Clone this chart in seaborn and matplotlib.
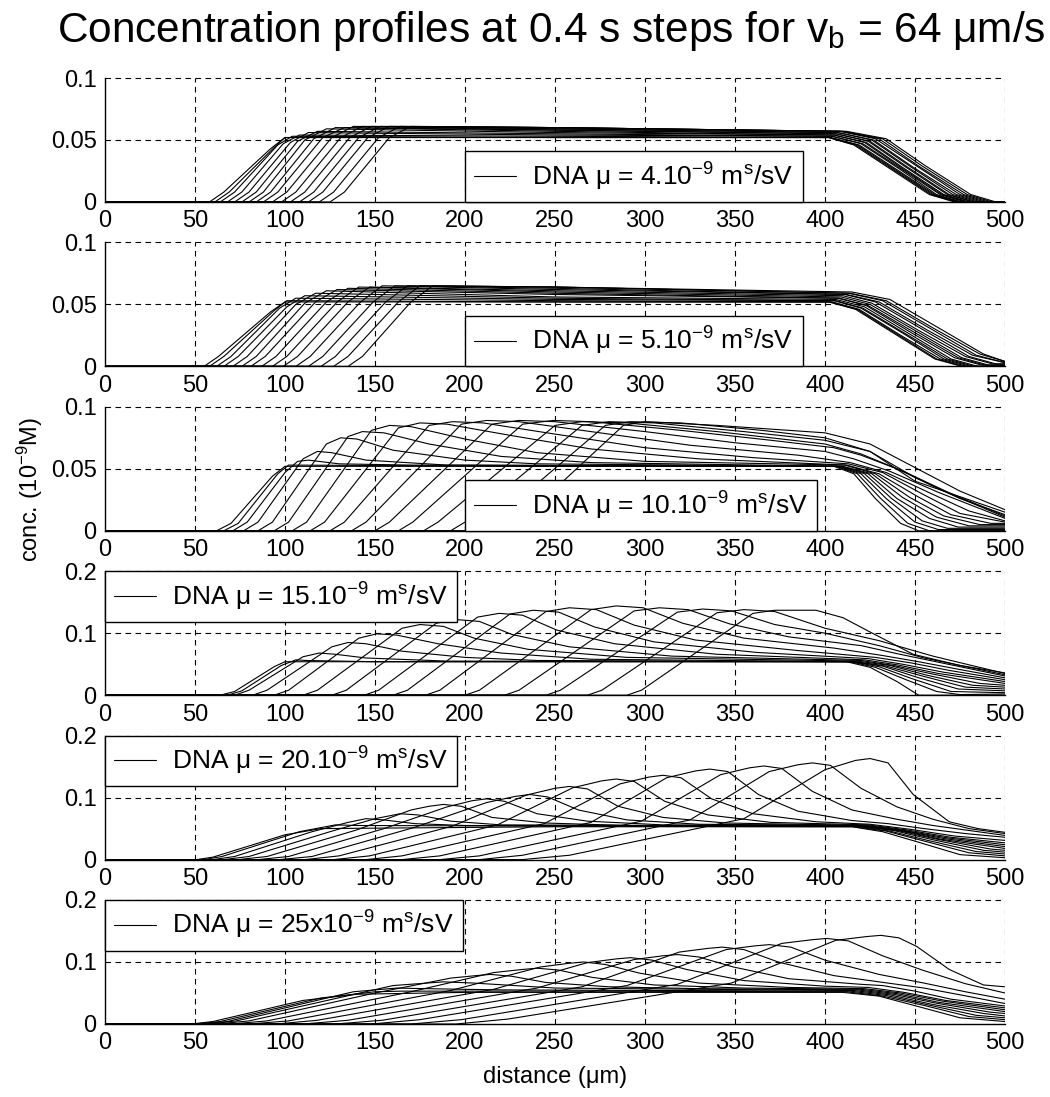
import matplotlib
matplotlib.use("Agg")
import matplotlib.pyplot as plt
from matplotlib.lines import Line2D
import pandas as pd
import seaborn as sns

# ---------------------------------------------------------------------------
# Concentration profiles, one list of (distance, conc.) knots per time step.
# ---------------------------------------------------------------------------
mu4_profiles = [
    [(58, 0), (66, .008), (92, .043), (100, .052), (402, .052), (416, .046), (437, .026), (458, .006), (472, 0)],
    [(61, 0), (69, .008), (94, .044), (100, .052), (402, .052), (417, .046), (438, .026), (459, .006), (473, 0)],
    [(64, 0), (72, .008), (96, .046), (104, .053), (250, .052), (403, .052), (418, .046), (439, .026), (460, .006), (474, 0)],
    [(68, 0), (76, .008), (99, .047), (108, .054), (250, .053), (403, .052), (419, .046), (440, .026), (461, .006), (475, 0)],
    [(72, 0), (80, .008), (103, .048), (113, .056), (250, .054), (404, .053), (420, .047), (441, .027), (462, .006), (476, 0)],
    [(76, 0), (84, .008), (107, .049), (118, .057), (250, .055), (404, .053), (421, .047), (442, .027), (464, .006), (478, 0)],
    [(80, 0), (88, .008), (111, .050), (123, .059), (250, .056), (405, .054), (422, .048), (443, .027), (465, .006), (479, 0)],
    [(84, 0), (92, .008), (116, .051), (128, .060), (250, .057), (405, .054), (423, .048), (444, .027), (466, .006), (480, 0)],
    [(88, 0), (96, .008), (121, .052), (133, .060), (250, .058), (406, .055), (424, .049), (445, .028), (468, .006), (482, 0)],
    [(93, 0), (101, .008), (126, .052), (138, .061), (250, .058), (406, .055), (425, .049), (446, .028), (469, .006), (483, 0)],
    [(98, 0), (106, .008), (131, .052), (143, .061), (250, .059), (407, .056), (426, .050), (448, .028), (471, .006), (485, 0)],
    [(103, 0), (111, .008), (136, .052), (148, .061), (250, .059), (407, .056), (427, .050), (449, .028), (473, .006), (487, 0)],
    [(108, 0), (116, .008), (141, .052), (153, .061), (250, .060), (408, .057), (428, .051), (451, .029), (475, .006), (489, 0)],
    [(113, 0), (121, .008), (146, .052), (158, .061), (250, .060), (409, .057), (430, .051), (452, .029), (477, .006), (491, 0)],
    [(119, 0), (127, .008), (152, .052), (164, .061), (250, .060), (410, .057), (432, .051), (454, .029), (479, .006), (493, 0)],
    [(125, 0), (133, .008), (158, .052), (170, .061), (250, .060), (412, .057), (434, .051), (456, .029), (481, .006), (495, 0)],
]

mu5_profiles = [
    [(55, 0), (63, .008), (92, .044), (100, .052), (402, .052), (417, .046), (439, .026), (461, .006), (476, 0)],
    [(58, 0), (66, .008), (94, .045), (101, .053), (250, .052), (403, .052), (418, .046), (440, .026), (462, .006), (477, 0)],
    [(62, 0), (70, .008), (97, .047), (106, .055), (250, .053), (404, .052), (419, .046), (441, .026), (464, .006), (479, 0)],
    [(66, 0), (74, .008), (101, .048), (111, .057), (250, .054), (405, .053), (420, .047), (443, .027), (466, .006), (481, 0)],
    [(71, 0), (79, .008), (106, .050), (117, .059), (250, .055), (406, .053), (421, .047), (444, .027), (468, .006), (483, 0)],
    [(76, 0), (84, .008), (111, .051), (123, .061), (250, .056), (406, .054), (422, .048), (446, .027), (470, .006), (485, 0)],
    [(81, 0), (89, .008), (117, .052), (129, .062), (250, .058), (407, .055), (423, .049), (447, .028), (472, .007), (487, .001), (500, .001)],
    [(87, 0), (95, .008), (123, .052), (135, .063), (250, .059), (408, .055), (424, .049), (449, .028), (474, .007), (489, .001), (500, .001)],
    [(93, 0), (101, .008), (129, .052), (141, .064), (250, .060), (409, .056), (425, .050), (450, .029), (476, .007), (491, .001), (500, .001)],
    [(99, 0), (107, .008), (135, .052), (147, .064), (250, .061), (410, .057), (426, .051), (452, .029), (478, .008), (493, .002), (500, .002)],
    [(106, 0), (114, .008), (142, .052), (154, .065), (250, .062), (411, .058), (428, .052), (454, .030), (480, .008), (495, .002), (500, .002)],
    [(113, 0), (121, .008), (149, .052), (161, .065), (250, .063), (412, .058), (430, .052), (456, .030), (482, .009), (500, .003)],
    [(120, 0), (128, .008), (156, .052), (168, .065), (250, .064), (413, .059), (432, .053), (458, .031), (484, .009), (500, .003)],
    [(127, 0), (135, .008), (163, .052), (175, .065), (250, .064), (414, .059), (434, .053), (460, .031), (486, .010), (500, .004)],
    [(135, 0), (143, .008), (170, .052), (182, .065), (250, .064), (415, .060), (436, .054), (462, .032), (488, .010), (500, .004)],
]

mu10_profiles = [
    [(62, 0), (70, .006), (93, .044), (100, .052), (405, .052), (416, .046), (428, .026), (442, .006), (452, 0)],
    [(66, 0), (74, .006), (96, .046), (102, .053), (250, .052), (406, .052), (418, .046), (431, .026), (446, .006), (458, 0)],
    [(71, 0), (79, .007), (100, .047), (107, .056), (113, .057), (130, .054), (170, .053), (407, .052), (420, .046), (434, .026), (450, .007), (463, .001), (500, .001)],
    [(77, 0), (85, .007), (110, .058), (118, .064), (126, .063), (145, .057), (190, .053), (408, .052), (422, .046), (437, .026), (454, .008), (468, .002), (500, .002)],
    [(85, 0), (93, .007), (123, .070), (131, .075), (140, .074), (160, .065), (200, .057), (240, .054), (409, .052), (424, .046), (440, .026), (458, .010), (474, .003), (500, .003)],
    [(94, 0), (102, .007), (135, .076), (143, .080), (155, .079), (180, .070), (220, .060), (270, .055), (410, .052), (426, .046), (443, .027), (462, .011), (480, .004), (500, .004)],
    [(104, 0), (112, .007), (148, .081), (158, .085), (170, .084), (200, .074), (240, .063), (300, .056), (411, .053), (428, .046), (447, .027), (466, .012), (486, .005), (500, .005)],
    [(114, 0), (122, .007), (163, .083), (175, .087), (190, .086), (225, .077), (270, .066), (330, .058), (412, .053), (430, .046), (451, .028), (470, .013), (492, .006), (500, .006)],
    [(125, 0), (133, .007), (180, .085), (193, .088), (210, .087), (250, .078), (300, .067), (360, .059), (413, .054), (432, .047), (455, .029), (475, .014), (500, .007)],
    [(137, 0), (145, .007), (198, .086), (212, .089), (230, .088), (275, .079), (325, .069), (385, .061), (414, .055), (434, .047), (459, .030), (480, .016), (500, .008)],
    [(150, 0), (158, .007), (215, .086), (230, .089), (250, .088), (300, .080), (350, .071), (400, .064), (416, .058), (436, .048), (463, .031), (500, .010)],
    [(163, 0), (171, .007), (232, .086), (249, .089), (270, .088), (320, .081), (370, .073), (405, .067), (420, .061), (440, .050), (466, .032), (500, .011)],
    [(177, 0), (185, .007), (250, .085), (265, .088), (290, .087), (340, .080), (400, .070), (420, .062), (445, .047), (470, .030), (500, .012)],
    [(192, 0), (200, .007), (265, .085), (280, .088), (305, .087), (355, .080), (400, .073), (425, .064), (450, .043), (475, .026), (500, .013)],
    [(207, 0), (215, .007), (278, .085), (292, .088), (320, .087), (365, .081), (400, .075), (425, .064), (450, .040), (500, .015)],
    [(222, 0), (230, .007), (288, .085), (300, .088), (340, .085), (400, .079), (425, .070), (450, .051), (475, .032), (500, .017)],
]

mu15_profiles = [
    [(64, 0), (72, .006), (94, .046), (100, .054), (412, .054), (425, .045), (440, .022), (452, 0)],
    [(68, 0), (76, .007), (98, .048), (106, .057), (112, .056), (150, .054), (414, .054), (428, .045), (445, .025), (462, .006), (475, .001), (500, .002)],
    [(72, 0), (80, .008), (110, .062), (119, .068), (128, .066), (145, .060), (190, .055), (415, .054), (430, .046), (448, .027), (470, .006), (500, .004)],
    [(82, 0), (90, .008), (126, .078), (135, .085), (145, .083), (165, .071), (200, .061), (240, .056), (416, .054), (432, .047), (451, .029), (474, .010), (500, .007)],
    [(94, 0), (102, .008), (141, .092), (151, .099), (162, .097), (185, .083), (220, .068), (270, .058), (417, .054), (434, .047), (454, .031), (478, .013), (500, .010)],
    [(110, 0), (118, .008), (165, .108), (175, .114), (188, .111), (205, .092), (235, .074), (290, .061), (418, .055), (436, .048), (457, .032), (482, .016), (500, .013)],
    [(126, 0), (134, .008), (184, .116), (195, .122), (208, .119), (226, .098), (258, .078), (315, .063), (420, .056), (438, .048), (460, .034), (486, .019), (500, .016)],
    [(144, 0), (152, .008), (207, .126), (219, .132), (232, .129), (251, .105), (283, .083), (340, .066), (422, .057), (440, .049), (463, .035), (500, .019)],
    [(160, 0), (168, .008), (225, .131), (238, .137), (252, .134), (272, .110), (305, .086), (362, .069), (424, .059), (443, .050), (466, .037), (500, .022)],
    [(178, 0), (186, .008), (245, .135), (258, .141), (273, .138), (294, .113), (328, .089), (385, .072), (428, .061), (448, .052), (469, .040), (500, .025)],
    [(200, 0), (208, .008), (270, .138), (284, .144), (299, .141), (321, .116), (355, .092), (405, .076), (432, .064), (452, .054), (472, .043), (500, .028)],
    [(222, 0), (230, .008), (294, .136), (308, .141), (324, .138), (347, .115), (380, .094), (420, .080), (440, .067), (460, .055), (500, .031)],
    [(245, 0), (253, .008), (318, .134), (332, .139), (348, .136), (372, .114), (400, .100), (430, .080), (455, .060), (500, .033)],
    [(268, 0), (276, .008), (340, .133), (355, .138), (372, .135), (400, .108), (430, .088), (460, .063), (500, .035)],
    [(290, 0), (298, .008), (360, .132), (372, .137), (395, .137), (410, .125), (425, .102), (449, .066), (475, .048), (500, .036)],
]

mu20_profiles = [
    [(51, 0), (60, .004), (100, .040), (120, .050), (250, .053), (415, .053), (432, .045), (452, .028), (475, .008), (500, .003)],
    [(55, 0), (65, .005), (108, .045), (128, .056), (140, .055), (250, .054), (416, .053), (434, .046), (455, .030), (480, .011), (500, .006)],
    [(60, 0), (72, .005), (115, .045), (135, .060), (145, .066), (155, .064), (172, .058), (200, .055), (417, .054), (436, .046), (457, .031), (484, .013), (500, .009)],
    [(66, 0), (80, .005), (125, .045), (150, .066), (164, .074), (174, .072), (192, .062), (220, .056), (418, .054), (438, .047), (460, .032), (488, .015), (500, .012)],
    [(74, 0), (90, .005), (140, .048), (170, .080), (180, .086), (188, .089), (198, .086), (215, .068), (245, .059), (290, .055), (420, .054), (440, .047), (462, .033), (492, .017), (500, .015)],
    [(85, 0), (102, .005), (155, .050), (190, .085), (204, .095), (212, .098), (222, .094), (240, .074), (268, .062), (310, .056), (421, .055), (442, .047), (464, .033), (500, .018)],
    [(97, 0), (115, .005), (172, .052), (212, .092), (228, .102), (236, .105), (246, .101), (263, .080), (290, .064), (330, .057), (422, .055), (443, .047), (466, .034), (500, .021)],
    [(111, 0), (130, .006), (193, .054), (234, .104), (250, .115), (258, .118), (268, .114), (285, .086), (310, .068), (345, .059), (423, .055), (444, .047), (468, .035), (500, .024)],
    [(127, 0), (147, .006), (218, .056), (260, .116), (276, .127), (284, .130), (294, .126), (311, .094), (335, .072), (370, .060), (424, .056), (445, .048), (470, .036), (500, .027)],
    [(145, 0), (165, .006), (244, .058), (286, .122), (302, .133), (310, .136), (320, .132), (337, .098), (360, .074), (395, .061), (425, .057), (447, .049), (472, .038), (500, .031)],
    [(165, 0), (186, .006), (270, .060), (312, .132), (328, .143), (336, .146), (346, .142), (363, .105), (385, .078), (415, .063), (435, .058), (455, .050), (478, .042), (500, .036)],
    [(186, 0), (208, .006), (298, .062), (342, .137), (358, .148), (366, .151), (376, .147), (393, .110), (415, .080), (440, .065), (460, .055), (480, .047), (500, .039)],
    [(208, 0), (232, .007), (325, .064), (369, .142), (385, .153), (393, .156), (403, .152), (420, .115), (440, .085), (460, .065), (480, .050), (500, .042)],
    [(232, 0), (258, .007), (355, .066), (400, .145), (417, .160), (425, .163), (435, .156), (449, .105), (469, .061), (485, .050), (500, .044)],
]

mu25_profiles = [
    [(48, 0), (60, .004), (110, .038), (140, .048), (200, .051), (410, .051), (430, .045), (452, .028), (475, .010), (500, .004)],
    [(50, 0), (64, .004), (120, .042), (150, .052), (165, .053), (250, .053), (412, .052), (432, .045), (455, .030), (480, .012), (500, .007)],
    [(53, 0), (68, .004), (138, .052), (162, .058), (178, .057), (220, .055), (414, .053), (434, .046), (457, .031), (484, .014), (500, .010)],
    [(57, 0), (73, .005), (160, .062), (188, .068), (205, .066), (250, .058), (416, .054), (436, .047), (459, .032), (488, .017), (500, .013)],
    [(62, 0), (80, .005), (150, .050), (192, .074), (206, .078), (214, .080), (226, .077), (245, .067), (280, .060), (330, .057), (418, .055), (438, .048), (461, .034), (492, .019), (500, .017)],
    [(70, 0), (90, .005), (170, .052), (216, .083), (232, .088), (240, .090), (252, .087), (271, .075), (305, .063), (355, .058), (420, .056), (440, .049), (463, .035), (500, .020)],
    [(80, 0), (102, .005), (192, .054), (242, .092), (258, .098), (266, .100), (278, .096), (297, .082), (330, .066), (380, .059), (422, .057), (442, .050), (465, .037), (500, .023)],
    [(95, 0), (118, .006), (216, .056), (268, .099), (284, .105), (292, .107), (304, .103), (323, .088), (355, .070), (400, .061), (424, .059), (444, .051), (467, .038), (500, .026)],
    [(110, 0), (135, .006), (240, .058), (294, .104), (310, .110), (318, .112), (330, .108), (349, .092), (380, .073), (420, .064), (432, .062), (450, .053), (470, .040), (500, .029)],
    [(128, 0), (154, .006), (265, .060), (319, .116), (335, .122), (343, .124), (355, .120), (374, .100), (405, .078), (435, .066), (455, .058), (477, .046), (500, .033)],
    [(148, 0), (175, .007), (290, .062), (345, .120), (361, .126), (369, .128), (381, .124), (400, .103), (430, .080), (455, .066), (478, .052), (500, .040)],
    [(170, 0), (198, .007), (318, .064), (376, .130), (393, .136), (401, .138), (413, .134), (432, .110), (454, .087), (478, .065), (500, .050)],
    [(195, 0), (224, .008), (348, .066), (406, .135), (423, .141), (431, .143), (441, .139), (451, .125), (469, .088), (488, .063), (500, .060)],
]

legend_labels = [
    r"DNA μ = 4.$10^{-9}$ $m^{s}$/sV",
    r"DNA μ = 5.$10^{-9}$ $m^{s}$/sV",
    r"DNA μ = 10.$10^{-9}$ $m^{s}$/sV",
    r"DNA μ = 15.$10^{-9}$ $m^{s}$/sV",
    r"DNA μ = 20.$10^{-9}$ $m^{s}$/sV",
    r"DNA μ = 25x$10^{-9}$ $m^{s}$/sV",
]
panel_profiles = [mu4_profiles, mu5_profiles, mu10_profiles,
                  mu15_profiles, mu20_profiles, mu25_profiles]
panel_ymax = [0.1, 0.1, 0.1, 0.2, 0.2, 0.2]
panel_yticks = [[0, 0.05, 0.1], [0, 0.05, 0.1], [0, 0.05, 0.1],
                [0, 0.1, 0.2], [0, 0.1, 0.2], [0, 0.1, 0.2]]
panel_yticklabels = [["0", "0.05", "0.1"]] * 3 + [["0", "0.1", "0.2"]] * 3
x_ticks = [0, 50, 100, 150, 200, 250, 300, 350, 400, 450, 500]
x_max = 500

records = []
for p, profiles in enumerate(panel_profiles):
    for c, knots in enumerate(profiles):
        pts = [(0, 0)] + list(knots)
        if pts[-1][0] < x_max:
            pts.append((x_max, pts[-1][1]))
        for x, y in pts:
            records.append({"panel": p, "curve": c, "x": x, "y": y})
df = pd.DataFrame(records)

# ---------------------------------------------------------------------------
sns.set_theme(style="white")
plt.rcParams["font.family"] = ["Liberation Sans", "DejaVu Sans"]
plt.rcParams["mathtext.fontset"] = "custom"
plt.rcParams["mathtext.rm"] = "Liberation Sans"
plt.rcParams["mathtext.it"] = "Liberation Sans"
plt.rcParams["mathtext.default"] = "regular"
for key in ("text.color", "axes.labelcolor", "xtick.color", "ytick.color"):
    plt.rcParams[key] = "black"

W, H = 1050, 1097
fig = plt.figure(figsize=(W / 100, H / 100), dpi=100)

left_px, right_px = 105, 1005
top0_px, step_px, height_px = 78, 164.4, 124

grid_kw = dict(color="black", linestyle=(0, (5, 4)), linewidth=0.8)

for p in range(6):
    top_px = top0_px + p * step_px
    ax = fig.add_axes([left_px / W, 1 - (top_px + height_px) / H,
                       (right_px - left_px) / W, height_px / H])
    sub = df[df["panel"] == p]
    sns.lineplot(data=sub, x="x", y="y", units="curve", estimator=None,
                 sort=False, color="black", linewidth=0.8, ax=ax,
                 legend=False)
    ax.set_xlim(0, x_max)
    ax.set_ylim(0, panel_ymax[p])
    ax.set_xticks(x_ticks)
    ax.set_xticklabels([str(t) for t in x_ticks])
    ax.set_yticks(panel_yticks[p])
    ax.set_yticklabels(panel_yticklabels[p])
    ax.tick_params(axis="both", labelsize=17, length=0, pad=6,
                   colors="black")
    ax.set_xlabel("")
    ax.set_ylabel("")
    for side in ("top", "right"):
        ax.spines[side].set_visible(False)
    for side in ("left", "bottom"):
        ax.spines[side].set_color("black")
        ax.spines[side].set_linewidth(1.0)
    ax.grid(False)
    for t in x_ticks[1:]:
        ax.axvline(t, **grid_kw, zorder=0.5)
    for t in panel_yticks[p][1:]:
        ax.axhline(t, **grid_kw, zorder=0.5, clip_on=False)

    handle = Line2D([], [], color="black", linewidth=0.8)
    if p < 3:
        loc, anchor = "lower left", (0.4, 0.0)
    else:
        loc, anchor = "upper left", (0.0, 1.0)
    leg = ax.legend([handle], [legend_labels[p]], loc=loc,
                    bbox_to_anchor=anchor, borderaxespad=0, fontsize=19,
                    frameon=True, fancybox=False, framealpha=1,
                    edgecolor="black", borderpad=0.35, handlelength=1.6,
                    handletextpad=0.6, labelcolor="black")
    leg.get_frame().set_linewidth(1.0)
    leg.set_zorder(5)

fig.text(551 / W, 1 - 42 / H,
         r"Concentration profiles at 0.4 s steps for v$_{b}$ = 64 μm/s",
         ha="center", va="baseline", fontsize=30.5, color="black")
fig.text(555 / W, 1 - 1077 / H, "distance (μm)", ha="center",
         va="center", fontsize=17, color="black")
fig.text(30 / W, 1 - 489 / H, r"conc. ($10^{-9}$M)", ha="center",
         va="center", rotation=90, fontsize=17, color="black")

fig.savefig("out.png", dpi=100, facecolor="white")
